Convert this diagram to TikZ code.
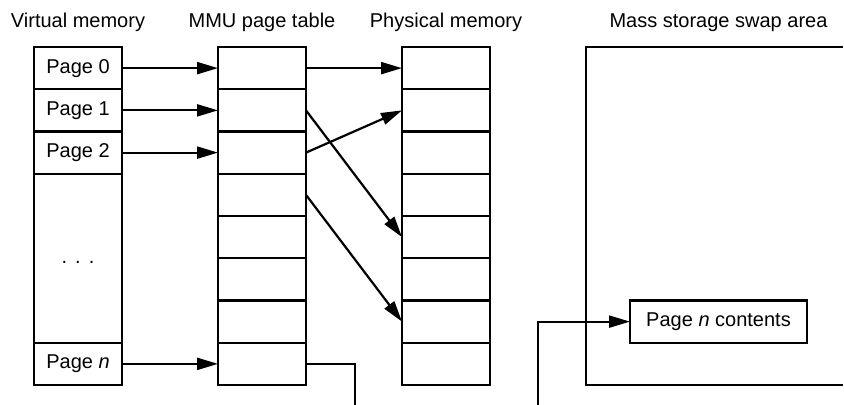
\documentclass[tikz,border=0pt]{standalone}
\usepackage{fontspec}
\setmainfont{Liberation Sans}
\usepackage{tikz}
\usetikzlibrary{arrows.meta, positioning, calc}
\tikzset{
  cell/.style={draw, line width=1.1pt, minimum width=44pt, minimum height=21.125pt, inner sep=0pt, outer sep=0pt},
  title/.style={inner sep=0pt},
  arrow/.style={-{Triangle[length=10.5pt, width=6pt]}, line width=1.1pt},
  link/.style={line width=1.1pt},
  every node/.style={font=\normalsize}
}

\begin{document}
\begin{tikzpicture}[node distance=0pt and 48pt]
    \useasboundingbox (0,0) rectangle (422pt,-202.5pt);
    % virtual memory
    \node[cell, anchor=north west] (vm0) at (17pt,-23.5pt) {Page 0};
    \node[cell, below=of vm0] (vm1) {Page 1};
    \node[cell, below=of vm1] (vm2) {Page 2};
    \node[cell, below=of vm2, minimum height=84.5pt] (vmdots) {\vphantom{Pg}.\hspace{4pt}.\hspace{4pt}.};
    \node[cell, below=of vmdots] (vmn) {Page \textit{n}};
    % page table and physical memory
    \node[cell, right=of vm0] (mmu0) {};
    \node[cell, right=of mmu0] (phys0) {};
    \foreach \i [remember=\i as \j (initially 0)] in {1,...,7} {
        \node[cell, below=of mmu\j] (mmu\i) {};
        \node[cell, below=of phys\j] (phys\i) {};
    }
    % swap area
    \coordinate (swapnw) at ($(phys0.north east)+(48pt,0)$);
    \draw[link] ($(swapnw)+(128.5pt,0)$) -- (swapnw) -- (swapnw |- phys7.south) -- ++(128.5pt,0);
    \node[cell, anchor=west, minimum width=88.5pt] (contents) at ($(swapnw |- phys6)+(22pt,0)$) {Page \textit{n} contents};
    % titles
    \node[title, above=9.5pt of vm0, anchor=base] (vmtitle) {Virtual memory};
    \node[title, above=9.5pt of mmu0, anchor=base] (mmutitle) {MMU page table};
    \node[title, above=9.5pt of phys0, anchor=base] (phystitle) {Physical memory};
    \node[title, anchor=base] (swaptitle) at (contents |- vmtitle.base) {Mass storage swap area};
    % mappings
    \draw[arrow] (vm0) -- (mmu0);
    \draw[arrow] (vm1) -- (mmu1);
    \draw[arrow] (vm2) -- (mmu2);
    \draw[arrow] (vmn) -- (mmu7);
    \draw[arrow] (mmu0) -- (phys0);
    \draw[arrow] (mmu2.east) -- (phys1.west);
    \draw[arrow] (mmu1.east) -- (phys4.west);
    \draw[arrow] (mmu3.east) -- (phys6.west);
    % page n out to the swap area
    \coordinate (mmuout) at ($(mmu7.east)+(24.5pt,-20.5pt)$);
    \coordinate (swapin) at ($(swapnw |- mmuout)+(-24pt,0)$);
    \draw[link] (mmu7.east) -| (mmuout);
    \draw[arrow] (swapin) |- (contents.west);
\end{tikzpicture}
\end{document}
